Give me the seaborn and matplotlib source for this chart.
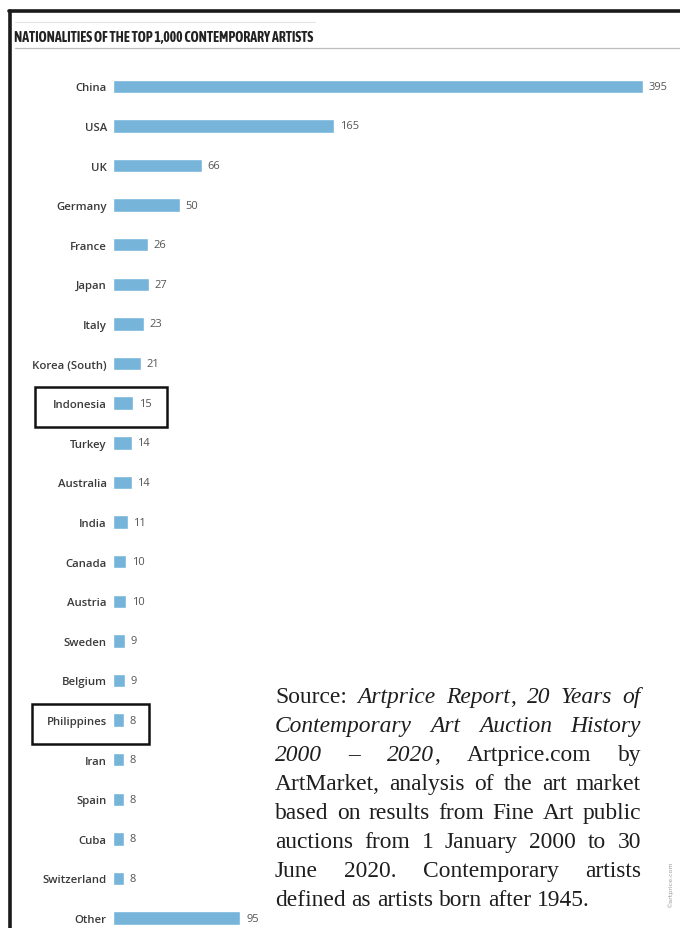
import matplotlib
matplotlib.use("Agg")
import matplotlib.pyplot as plt
import matplotlib.transforms as mtransforms
from matplotlib import font_manager
from matplotlib.lines import Line2D
from matplotlib.patches import Rectangle
import seaborn as sns

countries = ["China", "USA", "UK", "Germany", "France", "Japan", "Italy",
             "Korea (South)", "Indonesia", "Turkey", "Australia", "India",
             "Canada", "Austria", "Sweden", "Belgium", "Philippines", "Iran",
             "Spain", "Cuba", "Switzerland", "Other"]
artists = [395, 165, 66, 50, 26, 27, 23, 21, 15, 14, 14, 11, 10, 10, 9, 9,
           8, 8, 8, 8, 8, 95]
highlighted = ["Indonesia", "Philippines"]

title = "NATIONALITIES OF THE TOP 1,000 CONTEMPORARY ARTISTS"
# source note, one list per line, each word a list of (text, italic) pieces
note_lines = [
    [[("Source:", 0)], [("Artprice", 1)], [("Report", 1), (",", 0)],
     [("20", 1)], [("Years", 1)], [("of", 1)]],
    [[("Contemporary", 1)], [("Art", 1)], [("Auction", 1)], [("History", 1)]],
    [[("2000", 1)], [("\u2013", 1)], [("2020", 1), (",", 0)],
     [("Artprice.com", 0)], [("by", 0)]],
    [[(w, 0)] for w in "ArtMarket, analysis of the art market".split()],
    [[(w, 0)] for w in "based on results from Fine Art public".split()],
    [[(w, 0)] for w in "auctions from 1 January 2000 to 30".split()],
    [[(w, 0)] for w in "June 2020. Contemporary artists".split()],
    [[(w, 0)] for w in "defined as artists born after 1945.".split()],
]

W, H = 680, 929
sns.set_style("white")
fig = plt.figure(figsize=(W / 100, H / 100), dpi=100)
ax = fig.add_axes([113 / W, 0, 567 / W, (H - 60) / H])

sns.barplot(x=artists, y=countries, orient="h", color="#76b4da",
            saturation=1, width=0.34, ax=ax)
ax.set_xlim(0, 567 / 1.342)
ax.set_ylim(21.25, -0.69)
ax.set_xlabel("")
ax.set_ylabel("")
ax.set_xticks([])
for s in ax.spines.values():
    s.set_visible(False)
ax.tick_params(axis="y", length=0, pad=4.5)
for lab in ax.get_yticklabels():
    lab.set_fontfamily(["Open Sans", "DejaVu Sans"])
    lab.set_fontsize(8.2)
    lab.set_color("#3a3a3a")
    lab.set_fontweight("semibold")
ax.bar_label(ax.containers[0], fmt="%d", padding=4, fontsize=8,
             color="#555555", family=["Open Sans", "DejaVu Sans"])

# highlight boxes round some categories
trans = mtransforms.blended_transform_factory(fig.transFigure, ax.transData)
box_x = {"Indonesia": (35, 132), "Philippines": (32, 117)}
for name in highlighted:
    i = countries.index(name)
    x0, bw = box_x[name]
    ax.add_patch(Rectangle((x0 / W, i - 0.41), bw / W, 1.02, transform=trans,
                           fill=False, edgecolor="#111111", lw=1.8,
                           clip_on=False))

# frame, title and rules
fig.add_artist(Line2D([10 / W, 10 / W], [0, 1 - 12 / H], color="#1a1a1a",
                      lw=2.6, transform=fig.transFigure))
fig.add_artist(Line2D([9 / W, 1], [1 - 12 / H, 1 - 12 / H], color="#1a1a1a",
                      lw=2.6, transform=fig.transFigure))
fig.add_artist(Line2D([15 / W, 315 / W], [1 - 23 / H, 1 - 23 / H],
                      color="#e4e4e4", lw=0.8, transform=fig.transFigure))
fig.add_artist(Line2D([15 / W, 1], [1 - 49 / H, 1 - 49 / H],
                      color="#bdbdbd", lw=0.9, transform=fig.transFigure))

# narrow bold face for the title if one is installed
bold_w = (600, 700, 800, "bold", "semibold", "demibold", "heavy", "extra bold")
narrow = sorted({f.name for f in font_manager.fontManager.ttflist
                 if ("Narrow" in f.name or "Condensed" in f.name)
                 and f.weight in bold_w})
title_fam = narrow[:1] + ["Roboto", "DejaVu Sans"]
t = fig.text(14 / W, 1 - 38 / H, title, fontsize=9.5, fontweight="bold",
             family=title_fam, color="#222222", va="center", ha="left")
renderer = fig.canvas.get_renderer()
tw = t.get_window_extent(renderer).width
t.set_fontsize(min(11.0, 9.5 * 299 / tw))

fig.text(670 / W, 1 - 885 / H, "\u00a9artprice.com", rotation=90,
         fontsize=4.5, color="#9a9a9a", ha="center", va="center")

# justified source note
left, right = 275, 641
base0, step = 703, 29
fs = 14.0


def put(x, y, txt, ital, size):
    t = fig.text(x / W, 1 - y / H, txt, fontsize=size,
                 family="Liberation Serif",
                 style="italic" if ital else "normal", color="#1e1e1e",
                 ha="left", va="baseline")
    return t, t.get_window_extent(renderer).width


# size the note so its last line ends near x=592 and no line overflows
probe = []
for line in note_lines:
    arts = [put(0, 0, txt, it, fs) for word in line for txt, it in word]
    probe.append(sum(w for _, w in arts) + fs * 1.389 * 0.25 * (len(line) - 1))
    for a, _ in arts:
        a.remove()
scale = min((592 - left) / probe[-1],
            min((right - left) / p for p in probe[:-1]))
fs = fs * scale

for k, line in enumerate(note_lines):
    y = base0 + k * step
    pieces = [[put(0, y, txt, it, fs) for txt, it in word] for word in line]
    widths = [sum(w for _, w in arts) for arts in pieces]
    if k < len(note_lines) - 1:
        gap = (right - left - sum(widths)) / (len(pieces) - 1)
    else:
        gap = fs * 1.389 * 0.25
    x = left
    for arts, wdt in zip(pieces, widths):
        xx = x
        for t, w in arts:
            t.set_x(xx / W)
            xx += w
        x += wdt + gap

fig.savefig("out.png", dpi=100, facecolor="white")
